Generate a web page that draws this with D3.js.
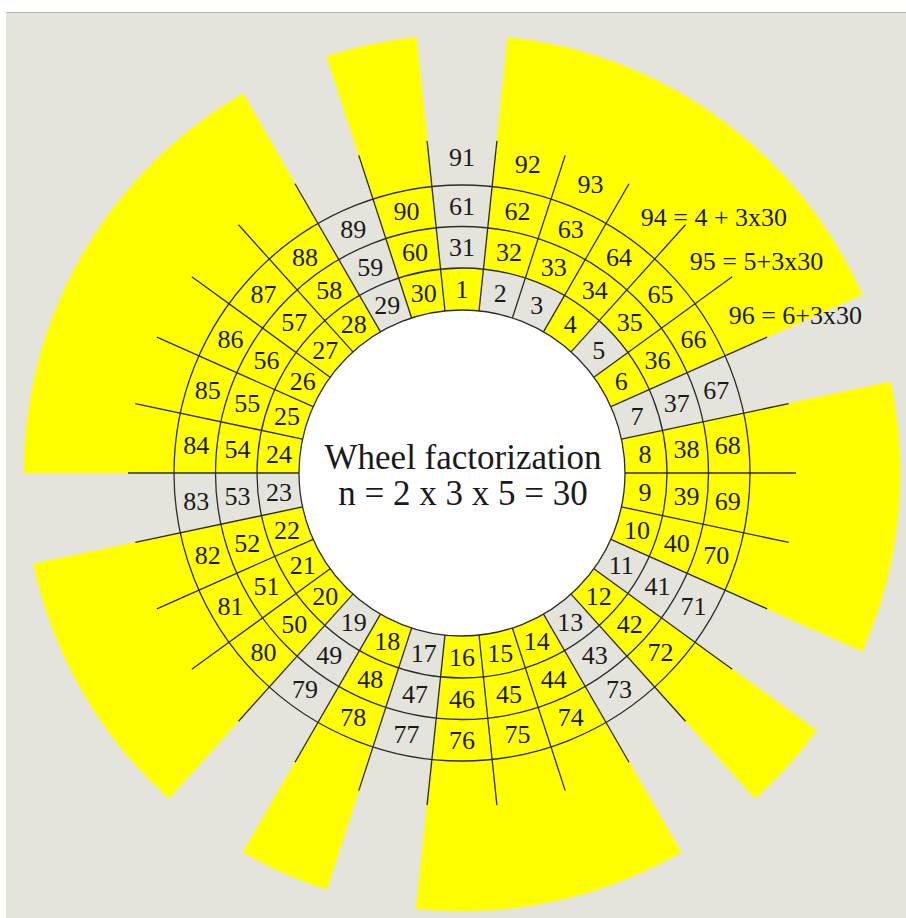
<!DOCTYPE html>
<html>
<head>
<meta charset="utf-8">
<script src="https://cdn.jsdelivr.net/npm/d3@7"></script>
<style>
html,body{margin:0;padding:0;background:#ffffff;}
svg{display:block;}
text{font-family:"Liberation Serif","Times New Roman",serif;fill:#1a1a1a;}
</style>
</head>
<body>
<svg id="chart" width="906" height="918"></svg>
<script>
// ---- data ----
const residues = [1,2,3,4,5,6,7,8,9,10,11,12,13,14,15,16,17,18,19,20,21,22,23,24,25,26,27,28,29,30];
const ring1 = [1,2,3,4,5,6,7,8,9,10,11,12,13,14,15,16,17,18,19,20,21,22,23,24,25,26,27,28,29,30];
const ring2 = [31,32,33,34,35,36,37,38,39,40,41,42,43,44,45,46,47,48,49,50,51,52,53,54,55,56,57,58,59,60];
const ring3 = [61,62,63,64,65,66,67,68,69,70,71,72,73,74,75,76,77,78,79,80,81,82,83,84,85,86,87,88,89,90];
const ring4Labels = ["91","92","93","94 = 4 + 3x30","95 = 5+3x30","96 = 6+3x30"];
// cells left grey (primes in the first turn, numbers coprime to 30 afterwards)
const greyCells = [2,3,5,7,11,13,17,19,23,29,31,37,41,43,47,49,53,59,61,67,71,73,77,79,83,89];
// residues whose outer spoke stays grey (coprime to 30)
const greySpokes = [1,7,11,13,17,19,23,29];
const titleLines = ["Wheel factorization","n = 2 x 3 x 5 = 30"];

// ---- layout ----
const cx = 462, cy = 473;
const YELLOW = "#ffff00", GREY = "#e4e4dc", LINE = "#2b2b2b";
const svg = d3.select("#chart");

const angle = d3.scaleLinear().domain([0.5, 30.5]).range([-Math.PI/30, 2*Math.PI - Math.PI/30]);
const radius = d3.scaleLinear().domain([0, 1, 2, 3, 4]).range([163, 205, 246.5, 288, 331]);
const outerR = 438, spokeR = 334, outerLabelR = 316;

svg.append("rect").attr("x", 0).attr("y", 0).attr("width", 906).attr("height", 918).attr("fill", "#ffffff");
svg.append("rect").attr("x", 6).attr("y", 12).attr("width", 900).attr("height", 906).attr("fill", GREY);
svg.append("line").attr("x1", 6).attr("x2", 906).attr("y1", 12.5).attr("y2", 12.5).attr("stroke", "#b4b4ac").attr("stroke-width", 1);

const g = svg.append("g").attr("transform", `translate(${cx},${cy})`);
const arc = d3.arc();

// outer yellow wedges
g.selectAll("path.wedge")
  .data(residues.filter(r => !greySpokes.includes(r)))
  .join("path")
  .attr("class", "wedge")
  .attr("d", r => arc({innerRadius: radius(3), outerRadius: outerR, startAngle: angle(r - 0.5), endAngle: angle(r + 0.5)}))
  .attr("fill", YELLOW)
  .attr("stroke", YELLOW).attr("stroke-width", 0.6);

// cells
const rings = [ring1, ring2, ring3];
const cells = [];
rings.forEach((ring, ri) => ring.forEach((v, i) => cells.push({v, ring: ri, idx: residues[i]})));
g.selectAll("path.cell")
  .data(cells)
  .join("path")
  .attr("class", "cell")
  .attr("d", d => arc({innerRadius: radius(d.ring), outerRadius: radius(d.ring + 1), startAngle: angle(d.idx - 0.5), endAngle: angle(d.idx + 0.5)}))
  .attr("fill", d => greyCells.includes(d.v) ? GREY : YELLOW)
  .attr("stroke", d => greyCells.includes(d.v) ? GREY : YELLOW).attr("stroke-width", 0.5);

// ring circles
g.selectAll("circle.ring")
  .data([1, 2, 3])
  .join("circle")
  .attr("class", "ring")
  .attr("r", d => radius(d))
  .attr("fill", "none")
  .attr("stroke", LINE).attr("stroke-width", 1.3);

// spokes
g.selectAll("line.spoke")
  .data(residues)
  .join("line")
  .attr("class", "spoke")
  .attr("x1", r => d3.pointRadial(angle(r - 0.5), radius(0))[0])
  .attr("y1", r => d3.pointRadial(angle(r - 0.5), radius(0))[1])
  .attr("x2", r => d3.pointRadial(angle(r - 0.5), spokeR)[0])
  .attr("y2", r => d3.pointRadial(angle(r - 0.5), spokeR)[1])
  .attr("stroke", LINE).attr("stroke-width", 1.3);

// inner white disc
g.append("circle").attr("r", radius(0)).attr("fill", "#ffffff").attr("stroke", LINE).attr("stroke-width", 1.3);

// cell labels
g.selectAll("text.cellLabel")
  .data(cells)
  .join("text")
  .attr("class", "cellLabel")
  .attr("x", d => d3.pointRadial(angle(d.idx), (radius(d.ring) + radius(d.ring + 1)) / 2)[0])
  .attr("y", d => d3.pointRadial(angle(d.idx), (radius(d.ring) + radius(d.ring + 1)) / 2)[1])
  .attr("text-anchor", "middle")
  .attr("dy", "0.34em")
  .attr("font-size", 26)
  .text(d => d.v);

// outer ring labels
g.selectAll("text.outerLabel")
  .data(ring4Labels)
  .join("text")
  .attr("class", "outerLabel")
  .attr("x", (t, i) => d3.pointRadial(angle(residues[i]), outerLabelR)[0] - (t.length > 2 ? 7 : 0))
  .attr("y", (t, i) => d3.pointRadial(angle(residues[i]), outerLabelR)[1])
  .attr("text-anchor", t => t.length > 2 ? "start" : "middle")
  .attr("dy", "0.34em")
  .attr("font-size", 26)
  .text(t => t);

// title
g.selectAll("text.title")
  .data(titleLines)
  .join("text")
  .attr("class", "title")
  .attr("x", 1)
  .attr("y", (t, i) => -4 + i * 36)
  .attr("text-anchor", "middle")
  .attr("font-size", 35)
  .text(t => t);
</script>
</body>
</html>
